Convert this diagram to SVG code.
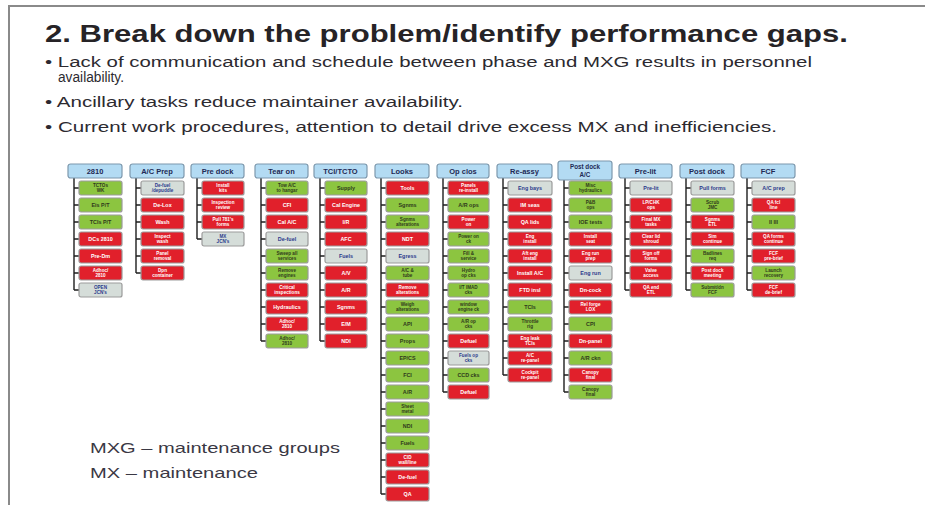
<svg xmlns="http://www.w3.org/2000/svg" width="925" height="505" viewBox="0 0 925 505">
<style>
  .ttl{font-family:"Liberation Sans",Arial,sans-serif;font-weight:bold;font-size:24px;fill:#262326}
  .bul{font-family:"Liberation Sans",Arial,sans-serif;font-size:14px;fill:#2c2a30}
  .leg{font-family:"Liberation Sans",Arial,sans-serif;font-size:15px;fill:#3a3844}
  .hd rect{fill:#b3dbf3;stroke:#7d98ad;stroke-width:1.2}
  .hd text{font-family:"Liberation Sans",Arial,sans-serif;font-weight:bold;font-size:7.5px;fill:#1f2a55;text-anchor:middle}
  .hd text.h2{font-size:6.3px}
  .rd rect,.gn rect,.gy rect{stroke:#9b9b9b;stroke-width:1.2}
  .rd rect{fill:#e1202b}
  .gn rect{fill:#8cc540}
  .gy rect{fill:#d5ddd9}
  .rd text,.gn text,.gy text{font-family:"Liberation Sans",Arial,sans-serif;font-weight:bold;font-size:5.4px;text-anchor:middle}
  .rd text{fill:#ffffff}
  .gn text{fill:#2f3a1c}
  .gy text{fill:#2b3a8c}
  text.t2{font-size:4.6px}
  .conn path{fill:none;stroke:#1e1e1e;stroke-width:1.4}
</style>

<!-- page frame -->
<path d="M8 6 H925 M9 6 V505" fill="none" stroke="#8a8a8a" stroke-width="2"/>

<!-- heading and notes -->
<text class="ttl" x="45" y="42" textLength="803" lengthAdjust="spacingAndGlyphs">2. Break down the problem/identify performance gaps.</text>
<text class="bul" x="45" y="67" textLength="767" lengthAdjust="spacingAndGlyphs">• Lack of communication and schedule between phase and MXG results in personnel</text>
<text class="bul" x="58" y="82" textLength="66" lengthAdjust="spacingAndGlyphs">availability.</text>
<text class="bul" x="45" y="107" textLength="418" lengthAdjust="spacingAndGlyphs">• Ancillary tasks reduce maintainer availability.</text>
<text class="bul" x="45" y="132" textLength="732" lengthAdjust="spacingAndGlyphs">• Current work procedures, attention to detail drive excess MX and inefficiencies.</text>

<text class="leg" x="90" y="453" textLength="250" lengthAdjust="spacingAndGlyphs">MXG – maintenance groups</text>
<text class="leg" x="90" y="478" textLength="168" lengthAdjust="spacingAndGlyphs">MX – maintenance</text>

<!-- tree connectors: spine per column plus a tick to each task -->
<g id="connectors" class="conn">
  <path d="M74 178 V290 M74 188 H79 M74 205 H79 M74 222 H79 M74 239 H79 M74 256 H79 M74 273 H79 M74 290 H79"/>
  <path d="M136 178 V273 M136 188 H141 M136 205 H141 M136 222 H141 M136 239 H141 M136 256 H141 M136 273 H141"/>
  <path d="M197 178 V239 M197 188 H202 M197 205 H202 M197 222 H202 M197 239 H202"/>
  <path d="M261 178 V341 M261 188 H266 M261 205 H266 M261 222 H266 M261 239 H266 M261 256 H266 M261 273 H266 M261 290 H266 M261 307 H266 M261 324 H266 M261 341 H266"/>
  <path d="M320 178 V341 M320 188 H325 M320 205 H325 M320 222 H325 M320 239 H325 M320 256 H325 M320 273 H325 M320 290 H325 M320 307 H325 M320 324 H325 M320 341 H325"/>
  <path d="M381 178 V494 M381 188 H386 M381 205 H386 M381 222 H386 M381 239 H386 M381 256 H386 M381 273 H386 M381 290 H386 M381 307 H386 M381 324 H386 M381 341 H386 M381 358 H386 M381 375 H386 M381 392 H386 M381 409 H386 M381 426 H386 M381 443 H386 M381 460 H386 M381 477 H386 M381 494 H386"/>
  <path d="M443 178 V392 M443 188 H448 M443 205 H448 M443 222 H448 M443 239 H448 M443 256 H448 M443 273 H448 M443 290 H448 M443 307 H448 M443 324 H448 M443 341 H448 M443 358 H448 M443 375 H448 M443 392 H448"/>
  <path d="M503 178 V375 M503 188 H508 M503 205 H508 M503 222 H508 M503 239 H508 M503 256 H508 M503 273 H508 M503 290 H508 M503 307 H508 M503 324 H508 M503 341 H508 M503 358 H508 M503 375 H508"/>
  <path d="M564 180 V392 M564 188 H569 M564 205 H569 M564 222 H569 M564 239 H569 M564 256 H569 M564 273 H569 M564 290 H569 M564 307 H569 M564 324 H569 M564 341 H569 M564 358 H569 M564 375 H569 M564 392 H569"/>
  <path d="M625 178 V290 M625 188 H630 M625 205 H630 M625 222 H630 M625 239 H630 M625 256 H630 M625 273 H630 M625 290 H630"/>
  <path d="M686 178 V290 M686 188 H691 M686 205 H691 M686 222 H691 M686 239 H691 M686 256 H691 M686 273 H691 M686 290 H691"/>
  <path d="M747 178 V290 M747 188 H752 M747 205 H752 M747 222 H752 M747 239 H752 M747 256 H752 M747 273 H752 M747 290 H752"/>
</g>

<!-- phase headers -->
<g id="h-2810" class="hd" transform="translate(68,164)"><rect width="54" height="14" rx="2.5"/><text x="27" y="10">2810</text></g>
<g id="h-acprep" class="hd" transform="translate(130,164)"><rect width="54" height="14" rx="2.5"/><text x="27" y="10">A/C Prep</text></g>
<g id="h-predock" class="hd" transform="translate(191,164)"><rect width="53" height="14" rx="2.5"/><text x="26.5" y="10">Pre dock</text></g>
<g id="h-tearon" class="hd" transform="translate(255,164)"><rect width="53" height="14" rx="2.5"/><text x="26.5" y="10">Tear on</text></g>
<g id="h-tci" class="hd" transform="translate(314,164)"><rect width="53" height="14" rx="2.5"/><text x="26.5" y="10">TCI/TCTO</text></g>
<g id="h-looks" class="hd" transform="translate(375,164)"><rect width="54" height="14" rx="2.5"/><text x="27" y="10">Looks</text></g>
<g id="h-opclos" class="hd" transform="translate(437,164)"><rect width="52" height="14" rx="2.5"/><text x="26" y="10">Op clos</text></g>
<g id="h-reassy" class="hd" transform="translate(497,164)"><rect width="55" height="14" rx="2.5"/><text x="27.5" y="10">Re-assy</text></g>
<g id="h-postdockac" class="hd" transform="translate(558,161)"><rect width="54" height="19" rx="2.5"/><text class="h2" x="27" y="8">Post dock</text><text class="h2" x="27" y="16">A/C</text></g>
<g id="h-prelit" class="hd" transform="translate(619,164)"><rect width="53" height="14" rx="2.5"/><text x="26.5" y="10">Pre-lit</text></g>
<g id="h-postdock" class="hd" transform="translate(680,164)"><rect width="54" height="14" rx="2.5"/><text x="27" y="10">Post dock</text></g>
<g id="h-fcf" class="hd" transform="translate(741,164)"><rect width="54" height="14" rx="2.5"/><text x="27" y="10">FCF</text></g>

<!-- 2810 tasks -->
<g id="t-2810-1" class="gn" transform="translate(79,181)"><rect width="43" height="14" rx="2"/><text class="t2" x="21.5" y="6">TCTOs<tspan x="21.5" dy="5">WK</tspan></text></g>
<g id="t-2810-2" class="gn" transform="translate(79,198)"><rect width="43" height="14" rx="2"/><text x="21.5" y="9">Eis P/T</text></g>
<g id="t-2810-3" class="gn" transform="translate(79,215)"><rect width="43" height="14" rx="2"/><text x="21.5" y="9">TCIs P/T</text></g>
<g id="t-2810-4" class="rd" transform="translate(79,232)"><rect width="43" height="14" rx="2"/><text x="21.5" y="9">DCs 2810</text></g>
<g id="t-2810-5" class="rd" transform="translate(79,249)"><rect width="43" height="14" rx="2"/><text x="21.5" y="9">Pre-Dm</text></g>
<g id="t-2810-6" class="rd" transform="translate(79,266)"><rect width="43" height="14" rx="2"/><text class="t2" x="21.5" y="6">Adhoc/<tspan x="21.5" dy="5">2810</tspan></text></g>
<g id="t-2810-7" class="gy" transform="translate(79,283)"><rect width="43" height="14" rx="2"/><text class="t2" x="21.5" y="6">OPEN<tspan x="21.5" dy="5">JCN's</tspan></text></g>

<!-- A/C Prep tasks -->
<g id="t-acp-1" class="gy" transform="translate(141,181)"><rect width="43" height="14" rx="2"/><text class="t2" x="21.5" y="6">De-fuel<tspan x="21.5" dy="5">/depuddle</tspan></text></g>
<g id="t-acp-2" class="rd" transform="translate(141,198)"><rect width="43" height="14" rx="2"/><text x="21.5" y="9">De-Lox</text></g>
<g id="t-acp-3" class="rd" transform="translate(141,215)"><rect width="43" height="14" rx="2"/><text x="21.5" y="9">Wash</text></g>
<g id="t-acp-4" class="rd" transform="translate(141,232)"><rect width="43" height="14" rx="2"/><text class="t2" x="21.5" y="6">Inspect<tspan x="21.5" dy="5">wash</tspan></text></g>
<g id="t-acp-5" class="rd" transform="translate(141,249)"><rect width="43" height="14" rx="2"/><text class="t2" x="21.5" y="6">Panel<tspan x="21.5" dy="5">removal</tspan></text></g>
<g id="t-acp-6" class="rd" transform="translate(141,266)"><rect width="43" height="14" rx="2"/><text class="t2" x="21.5" y="6">Dpn<tspan x="21.5" dy="5">container</tspan></text></g>

<!-- Pre dock tasks -->
<g id="t-pre-1" class="rd" transform="translate(202,181)"><rect width="42" height="14" rx="2"/><text class="t2" x="21" y="6">Install<tspan x="21" dy="5">kits</tspan></text></g>
<g id="t-pre-2" class="rd" transform="translate(202,198)"><rect width="42" height="14" rx="2"/><text class="t2" x="21" y="6">Inspection<tspan x="21" dy="5">review</tspan></text></g>
<g id="t-pre-3" class="rd" transform="translate(202,215)"><rect width="42" height="14" rx="2"/><text class="t2" x="21" y="6">Pull 781's<tspan x="21" dy="5">forms</tspan></text></g>
<g id="t-pre-4" class="gy" transform="translate(202,232)"><rect width="42" height="14" rx="2"/><text class="t2" x="21" y="6">MX<tspan x="21" dy="5">JCN's</tspan></text></g>

<!-- Tear on tasks -->
<g id="t-tear-1" class="gn" transform="translate(266,181)"><rect width="42" height="14" rx="2"/><text class="t2" x="21" y="6">Tow A/C<tspan x="21" dy="5">to hangar</tspan></text></g>
<g id="t-tear-2" class="rd" transform="translate(266,198)"><rect width="42" height="14" rx="2"/><text x="21" y="9">CFI</text></g>
<g id="t-tear-3" class="rd" transform="translate(266,215)"><rect width="42" height="14" rx="2"/><text x="21" y="9">Cal A/C</text></g>
<g id="t-tear-4" class="gy" transform="translate(266,232)"><rect width="42" height="14" rx="2"/><text x="21" y="9">De-fuel</text></g>
<g id="t-tear-5" class="gn" transform="translate(266,249)"><rect width="42" height="14" rx="2"/><text class="t2" x="21" y="6">Sweep all<tspan x="21" dy="5">services</tspan></text></g>
<g id="t-tear-6" class="gn" transform="translate(266,266)"><rect width="42" height="14" rx="2"/><text class="t2" x="21" y="6">Remove<tspan x="21" dy="5">engines</tspan></text></g>
<g id="t-tear-7" class="rd" transform="translate(266,283)"><rect width="42" height="14" rx="2"/><text class="t2" x="21" y="6">Critical<tspan x="21" dy="5">inspections</tspan></text></g>
<g id="t-tear-8" class="rd" transform="translate(266,300)"><rect width="42" height="14" rx="2"/><text x="21" y="9">Hydraulics</text></g>
<g id="t-tear-9" class="rd" transform="translate(266,317)"><rect width="42" height="14" rx="2"/><text class="t2" x="21" y="6">Adhoc/<tspan x="21" dy="5">2810</tspan></text></g>
<g id="t-tear-10" class="gn" transform="translate(266,334)"><rect width="42" height="14" rx="2"/><text class="t2" x="21" y="6">Adhoc/<tspan x="21" dy="5">2810</tspan></text></g>

<!-- TCI/TCTO tasks -->
<g id="t-tci-1" class="gn" transform="translate(325,181)"><rect width="42" height="14" rx="2"/><text x="21" y="9">Supply</text></g>
<g id="t-tci-2" class="rd" transform="translate(325,198)"><rect width="42" height="14" rx="2"/><text x="21" y="9">Cal Engine</text></g>
<g id="t-tci-3" class="rd" transform="translate(325,215)"><rect width="42" height="14" rx="2"/><text x="21" y="9">I/R</text></g>
<g id="t-tci-4" class="rd" transform="translate(325,232)"><rect width="42" height="14" rx="2"/><text x="21" y="9">AFC</text></g>
<g id="t-tci-5" class="gy" transform="translate(325,249)"><rect width="42" height="14" rx="2"/><text x="21" y="9">Fuels</text></g>
<g id="t-tci-6" class="rd" transform="translate(325,266)"><rect width="42" height="14" rx="2"/><text x="21" y="9">A/V</text></g>
<g id="t-tci-7" class="rd" transform="translate(325,283)"><rect width="42" height="14" rx="2"/><text x="21" y="9">A/R</text></g>
<g id="t-tci-8" class="rd" transform="translate(325,300)"><rect width="42" height="14" rx="2"/><text x="21" y="9">Sgnms</text></g>
<g id="t-tci-9" class="rd" transform="translate(325,317)"><rect width="42" height="14" rx="2"/><text x="21" y="9">E/M</text></g>
<g id="t-tci-10" class="rd" transform="translate(325,334)"><rect width="42" height="14" rx="2"/><text x="21" y="9">NDI</text></g>

<!-- Looks tasks -->
<g id="t-looks-1" class="rd" transform="translate(386,181)"><rect width="43" height="14" rx="2"/><text x="21.5" y="9">Tools</text></g>
<g id="t-looks-2" class="gn" transform="translate(386,198)"><rect width="43" height="14" rx="2"/><text x="21.5" y="9">Sgnms</text></g>
<g id="t-looks-3" class="gn" transform="translate(386,215)"><rect width="43" height="14" rx="2"/><text class="t2" x="21.5" y="6">Sgnms<tspan x="21.5" dy="5">alterations</tspan></text></g>
<g id="t-looks-4" class="rd" transform="translate(386,232)"><rect width="43" height="14" rx="2"/><text x="21.5" y="9">NDT</text></g>
<g id="t-looks-5" class="gy" transform="translate(386,249)"><rect width="43" height="14" rx="2"/><text x="21.5" y="9">Egress</text></g>
<g id="t-looks-6" class="gn" transform="translate(386,266)"><rect width="43" height="14" rx="2"/><text class="t2" x="21.5" y="6">A/C &amp;<tspan x="21.5" dy="5">tube</tspan></text></g>
<g id="t-looks-7" class="rd" transform="translate(386,283)"><rect width="43" height="14" rx="2"/><text class="t2" x="21.5" y="6">Remove<tspan x="21.5" dy="5">alterations</tspan></text></g>
<g id="t-looks-8" class="gn" transform="translate(386,300)"><rect width="43" height="14" rx="2"/><text class="t2" x="21.5" y="6">Weigh<tspan x="21.5" dy="5">alterations</tspan></text></g>
<g id="t-looks-9" class="gn" transform="translate(386,317)"><rect width="43" height="14" rx="2"/><text x="21.5" y="9">API</text></g>
<g id="t-looks-10" class="gn" transform="translate(386,334)"><rect width="43" height="14" rx="2"/><text x="21.5" y="9">Props</text></g>
<g id="t-looks-11" class="gn" transform="translate(386,351)"><rect width="43" height="14" rx="2"/><text x="21.5" y="9">EP/CS</text></g>
<g id="t-looks-12" class="gn" transform="translate(386,368)"><rect width="43" height="14" rx="2"/><text x="21.5" y="9">FCI</text></g>
<g id="t-looks-13" class="gn" transform="translate(386,385)"><rect width="43" height="14" rx="2"/><text x="21.5" y="9">A/R</text></g>
<g id="t-looks-14" class="gn" transform="translate(386,402)"><rect width="43" height="14" rx="2"/><text class="t2" x="21.5" y="6">Sheet<tspan x="21.5" dy="5">metal</tspan></text></g>
<g id="t-looks-15" class="gn" transform="translate(386,419)"><rect width="43" height="14" rx="2"/><text x="21.5" y="9">NDI</text></g>
<g id="t-looks-16" class="gn" transform="translate(386,436)"><rect width="43" height="14" rx="2"/><text x="21.5" y="9">Fuels</text></g>
<g id="t-looks-17" class="rd" transform="translate(386,453)"><rect width="43" height="14" rx="2"/><text class="t2" x="21.5" y="6">CID<tspan x="21.5" dy="5">wall/line</tspan></text></g>
<g id="t-looks-18" class="rd" transform="translate(386,470)"><rect width="43" height="14" rx="2"/><text x="21.5" y="9">De-fuel</text></g>
<g id="t-looks-19" class="rd" transform="translate(386,487)"><rect width="43" height="14" rx="2"/><text x="21.5" y="9">QA</text></g>

<!-- Op clos tasks -->
<g id="t-op-1" class="rd" transform="translate(448,181)"><rect width="41" height="14" rx="2"/><text class="t2" x="20.5" y="6">Panels<tspan x="20.5" dy="5">re-install</tspan></text></g>
<g id="t-op-2" class="gn" transform="translate(448,198)"><rect width="41" height="14" rx="2"/><text x="20.5" y="9">A/R ops</text></g>
<g id="t-op-3" class="rd" transform="translate(448,215)"><rect width="41" height="14" rx="2"/><text class="t2" x="20.5" y="6">Power<tspan x="20.5" dy="5">on</tspan></text></g>
<g id="t-op-4" class="gn" transform="translate(448,232)"><rect width="41" height="14" rx="2"/><text class="t2" x="20.5" y="6">Power on<tspan x="20.5" dy="5">ck</tspan></text></g>
<g id="t-op-5" class="gn" transform="translate(448,249)"><rect width="41" height="14" rx="2"/><text class="t2" x="20.5" y="6">Fill &amp;<tspan x="20.5" dy="5">service</tspan></text></g>
<g id="t-op-6" class="gn" transform="translate(448,266)"><rect width="41" height="14" rx="2"/><text class="t2" x="20.5" y="6">Hydro<tspan x="20.5" dy="5">op cks</tspan></text></g>
<g id="t-op-7" class="gn" transform="translate(448,283)"><rect width="41" height="14" rx="2"/><text class="t2" x="20.5" y="6">I/T IMAD<tspan x="20.5" dy="5">cks</tspan></text></g>
<g id="t-op-8" class="gn" transform="translate(448,300)"><rect width="41" height="14" rx="2"/><text class="t2" x="20.5" y="6">window<tspan x="20.5" dy="5">engine ck</tspan></text></g>
<g id="t-op-9" class="gn" transform="translate(448,317)"><rect width="41" height="14" rx="2"/><text class="t2" x="20.5" y="6">A/R op<tspan x="20.5" dy="5">cks</tspan></text></g>
<g id="t-op-10" class="rd" transform="translate(448,334)"><rect width="41" height="14" rx="2"/><text x="20.5" y="9">Defuel</text></g>
<g id="t-op-11" class="gy" transform="translate(448,351)"><rect width="41" height="14" rx="2"/><text class="t2" x="20.5" y="6">Fuels op<tspan x="20.5" dy="5">cks</tspan></text></g>
<g id="t-op-12" class="gn" transform="translate(448,368)"><rect width="41" height="14" rx="2"/><text x="20.5" y="9">CCD cks</text></g>
<g id="t-op-13" class="rd" transform="translate(448,385)"><rect width="41" height="14" rx="2"/><text x="20.5" y="9">Defuel</text></g>

<!-- Re-assy tasks -->
<g id="t-re-1" class="gy" transform="translate(508,181)"><rect width="44" height="14" rx="2"/><text x="22" y="9">Eng bays</text></g>
<g id="t-re-2" class="rd" transform="translate(508,198)"><rect width="44" height="14" rx="2"/><text x="22" y="9">IM seas</text></g>
<g id="t-re-3" class="rd" transform="translate(508,215)"><rect width="44" height="14" rx="2"/><text x="22" y="9">QA lids</text></g>
<g id="t-re-4" class="rd" transform="translate(508,232)"><rect width="44" height="14" rx="2"/><text class="t2" x="22" y="6">Eng<tspan x="22" dy="5">install</tspan></text></g>
<g id="t-re-5" class="rd" transform="translate(508,249)"><rect width="44" height="14" rx="2"/><text class="t2" x="22" y="6">Aft eng<tspan x="22" dy="5">install</tspan></text></g>
<g id="t-re-6" class="rd" transform="translate(508,266)"><rect width="44" height="14" rx="2"/><text x="22" y="9">Install A/C</text></g>
<g id="t-re-7" class="rd" transform="translate(508,283)"><rect width="44" height="14" rx="2"/><text x="22" y="9">FTD insl</text></g>
<g id="t-re-8" class="gn" transform="translate(508,300)"><rect width="44" height="14" rx="2"/><text x="22" y="9">TCIs</text></g>
<g id="t-re-9" class="gn" transform="translate(508,317)"><rect width="44" height="14" rx="2"/><text class="t2" x="22" y="6">Throttle<tspan x="22" dy="5">rig</tspan></text></g>
<g id="t-re-10" class="rd" transform="translate(508,334)"><rect width="44" height="14" rx="2"/><text class="t2" x="22" y="6">Eng leak<tspan x="22" dy="5">TCIs</tspan></text></g>
<g id="t-re-11" class="rd" transform="translate(508,351)"><rect width="44" height="14" rx="2"/><text class="t2" x="22" y="6">A/C<tspan x="22" dy="5">re-panel</tspan></text></g>
<g id="t-re-12" class="rd" transform="translate(508,368)"><rect width="44" height="14" rx="2"/><text class="t2" x="22" y="6">Cockpit<tspan x="22" dy="5">re-panel</tspan></text></g>

<!-- Post dock A/C tasks -->
<g id="t-pda-1" class="gn" transform="translate(569,181)"><rect width="43" height="14" rx="2"/><text class="t2" x="21.5" y="6">Misc<tspan x="21.5" dy="5">hydraulics</tspan></text></g>
<g id="t-pda-2" class="gn" transform="translate(569,198)"><rect width="43" height="14" rx="2"/><text class="t2" x="21.5" y="6">P&amp;B<tspan x="21.5" dy="5">ops</tspan></text></g>
<g id="t-pda-3" class="gn" transform="translate(569,215)"><rect width="43" height="14" rx="2"/><text x="21.5" y="9">IOE tests</text></g>
<g id="t-pda-4" class="rd" transform="translate(569,232)"><rect width="43" height="14" rx="2"/><text class="t2" x="21.5" y="6">Install<tspan x="21.5" dy="5">seat</tspan></text></g>
<g id="t-pda-5" class="rd" transform="translate(569,249)"><rect width="43" height="14" rx="2"/><text class="t2" x="21.5" y="6">Eng run<tspan x="21.5" dy="5">prep</tspan></text></g>
<g id="t-pda-6" class="gy" transform="translate(569,266)"><rect width="43" height="14" rx="2"/><text x="21.5" y="9">Eng run</text></g>
<g id="t-pda-7" class="rd" transform="translate(569,283)"><rect width="43" height="14" rx="2"/><text x="21.5" y="9">Dn-cock</text></g>
<g id="t-pda-8" class="rd" transform="translate(569,300)"><rect width="43" height="14" rx="2"/><text class="t2" x="21.5" y="6">Rel forge<tspan x="21.5" dy="5">LOX</tspan></text></g>
<g id="t-pda-9" class="gn" transform="translate(569,317)"><rect width="43" height="14" rx="2"/><text x="21.5" y="9">CPI</text></g>
<g id="t-pda-10" class="rd" transform="translate(569,334)"><rect width="43" height="14" rx="2"/><text x="21.5" y="9">Dn-panel</text></g>
<g id="t-pda-11" class="gn" transform="translate(569,351)"><rect width="43" height="14" rx="2"/><text x="21.5" y="9">A/R ckn</text></g>
<g id="t-pda-12" class="rd" transform="translate(569,368)"><rect width="43" height="14" rx="2"/><text class="t2" x="21.5" y="6">Canopy<tspan x="21.5" dy="5">final</tspan></text></g>
<g id="t-pda-13" class="gn" transform="translate(569,385)"><rect width="43" height="14" rx="2"/><text class="t2" x="21.5" y="6">Canopy<tspan x="21.5" dy="5">final</tspan></text></g>

<!-- Pre-lit tasks -->
<g id="t-pl-1" class="gy" transform="translate(630,181)"><rect width="42" height="14" rx="2"/><text x="21" y="9">Pre-lit</text></g>
<g id="t-pl-2" class="rd" transform="translate(630,198)"><rect width="42" height="14" rx="2"/><text class="t2" x="21" y="6">LP/CHK<tspan x="21" dy="5">ops</tspan></text></g>
<g id="t-pl-3" class="rd" transform="translate(630,215)"><rect width="42" height="14" rx="2"/><text class="t2" x="21" y="6">Final MX<tspan x="21" dy="5">tasks</tspan></text></g>
<g id="t-pl-4" class="rd" transform="translate(630,232)"><rect width="42" height="14" rx="2"/><text class="t2" x="21" y="6">Clear lid<tspan x="21" dy="5">shroud</tspan></text></g>
<g id="t-pl-5" class="rd" transform="translate(630,249)"><rect width="42" height="14" rx="2"/><text class="t2" x="21" y="6">Sign off<tspan x="21" dy="5">forms</tspan></text></g>
<g id="t-pl-6" class="rd" transform="translate(630,266)"><rect width="42" height="14" rx="2"/><text class="t2" x="21" y="6">Valve<tspan x="21" dy="5">access</tspan></text></g>
<g id="t-pl-7" class="rd" transform="translate(630,283)"><rect width="42" height="14" rx="2"/><text class="t2" x="21" y="6">QA end<tspan x="21" dy="5">ETL</tspan></text></g>

<!-- Post dock tasks -->
<g id="t-pd-1" class="gy" transform="translate(691,181)"><rect width="43" height="14" rx="2"/><text x="21.5" y="9">Pull forms</text></g>
<g id="t-pd-2" class="gn" transform="translate(691,198)"><rect width="43" height="14" rx="2"/><text class="t2" x="21.5" y="6">Scrub<tspan x="21.5" dy="5">JMC</tspan></text></g>
<g id="t-pd-3" class="rd" transform="translate(691,215)"><rect width="43" height="14" rx="2"/><text class="t2" x="21.5" y="6">Sgnms<tspan x="21.5" dy="5">ETL</tspan></text></g>
<g id="t-pd-4" class="rd" transform="translate(691,232)"><rect width="43" height="14" rx="2"/><text class="t2" x="21.5" y="6">Sim<tspan x="21.5" dy="5">continue</tspan></text></g>
<g id="t-pd-5" class="gn" transform="translate(691,249)"><rect width="43" height="14" rx="2"/><text class="t2" x="21.5" y="6">Badlines<tspan x="21.5" dy="5">req</tspan></text></g>
<g id="t-pd-6" class="rd" transform="translate(691,266)"><rect width="43" height="14" rx="2"/><text class="t2" x="21.5" y="6">Post dock<tspan x="21.5" dy="5">meeting</tspan></text></g>
<g id="t-pd-7" class="gn" transform="translate(691,283)"><rect width="43" height="14" rx="2"/><text class="t2" x="21.5" y="6">Submit/dn<tspan x="21.5" dy="5">FCF</tspan></text></g>

<!-- FCF tasks -->
<g id="t-fcf-1" class="gy" transform="translate(752,181)"><rect width="43" height="14" rx="2"/><text x="21.5" y="9">A/C prep</text></g>
<g id="t-fcf-2" class="rd" transform="translate(752,198)"><rect width="43" height="14" rx="2"/><text class="t2" x="21.5" y="6">QA fcl<tspan x="21.5" dy="5">line</tspan></text></g>
<g id="t-fcf-3" class="gn" transform="translate(752,215)"><rect width="43" height="14" rx="2"/><text x="21.5" y="9">II III</text></g>
<g id="t-fcf-4" class="rd" transform="translate(752,232)"><rect width="43" height="14" rx="2"/><text class="t2" x="21.5" y="6">QA forms<tspan x="21.5" dy="5">continue</tspan></text></g>
<g id="t-fcf-5" class="rd" transform="translate(752,249)"><rect width="43" height="14" rx="2"/><text class="t2" x="21.5" y="6">FCF<tspan x="21.5" dy="5">pre-brief</tspan></text></g>
<g id="t-fcf-6" class="gn" transform="translate(752,266)"><rect width="43" height="14" rx="2"/><text class="t2" x="21.5" y="6">Launch<tspan x="21.5" dy="5">recovery</tspan></text></g>
<g id="t-fcf-7" class="rd" transform="translate(752,283)"><rect width="43" height="14" rx="2"/><text class="t2" x="21.5" y="6">FCF<tspan x="21.5" dy="5">de-brief</tspan></text></g>
</svg>
